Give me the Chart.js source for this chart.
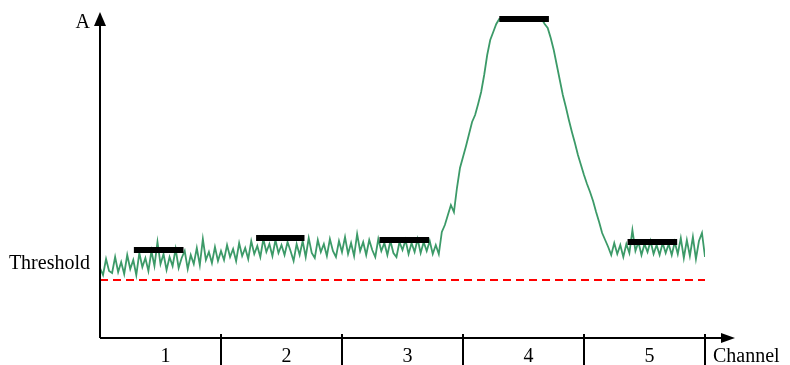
<!DOCTYPE html>
<html>
<head>
<meta charset="utf-8">
<script src="https://cdn.jsdelivr.net/npm/chart.js@4"></script>
<style>
  body { margin: 0; background: #fff; }
</style>
</head>
<body>
<canvas id="myChart" width="790" height="365"></canvas>
<script>
// channel names along the x axis
const channels = ['1', '2', '3', '4', '5'];

const signal = [
  70, 63, 79, 67, 65, 81, 66, 76, 64, 83, 69, 78, 63, 85, 71, 80, 67, 87, 72, 96,
  74, 84, 68, 81, 72, 89, 70, 80, 87, 69, 83, 74, 90, 73, 99, 78, 86, 75, 91, 77,
  87, 78, 93, 81, 89, 77, 95, 82, 90, 79, 97, 84, 92, 81, 99, 86, 94, 82, 98, 85,
  93, 83, 96, 87, 77, 94, 83, 97, 81, 100, 85, 80, 98, 86, 94, 82, 99, 87, 81, 97,
  86, 101, 84, 95, 82, 104, 87, 96, 83, 98, 88, 81, 99, 87, 95, 83, 97, 85, 81, 96,
  88, 98, 84, 95, 86, 99, 85, 96, 87, 97, 84, 93, 84,
  106, 113, 123, 133, 126, 150, 170, 181, 192, 204, 216, 223, 234, 246, 263, 283, 298, 306, 314, 319,
  319, 319, 319, 319, 319, 319, 319, 319, 319, 319, 319, 319, 319, 319, 314,
  310, 300, 288, 273, 258, 243, 231, 218, 206, 195, 183, 173, 163, 154, 146, 137, 126, 116, 105, 98,
  91, 83, 95, 84, 93, 81, 94, 85, 108, 87, 96, 83, 94, 86, 97, 84, 93, 83, 95, 85,
  94, 83, 96, 84, 100, 80, 98, 82, 101, 79, 97, 105, 81
];

// mean level per channel (black bars)
const levelStart = [0.28, 1.29, 2.31, 3.30, 4.36];
const levelEnd = [0.69, 1.69, 2.72, 3.71, 4.77];
const levelValue = [88, 100, 98, 319, 96];

const threshold = 58;
const yMax = 326;

const signalPoints = signal.map((v, i) => ({ x: i * channels.length / (signal.length - 1), y: v }));

const datasets = [{
  data: signalPoints,
  borderColor: '#3c9a68',
  borderWidth: 1.8,
  pointRadius: 0,
  tension: 0,
  order: 3
}, {
  data: [{ x: 0, y: threshold }, { x: channels.length, y: threshold }],
  borderColor: '#ff0000',
  borderWidth: 2,
  borderDash: [8, 5],
  pointRadius: 0,
  order: 2
}];

for (let i = 0; i < levelValue.length; i++) {
  datasets.push({
    data: [{ x: levelStart[i], y: levelValue[i] }, { x: levelEnd[i], y: levelValue[i] }],
    borderColor: '#000',
    borderWidth: 6,
    borderCapStyle: 'butt',
    pointRadius: 0,
    order: 0
  });
}

const axesPlugin = {
  id: 'axes',
  afterDraw(chart) {
    const ctx = chart.ctx;
    const xs = chart.scales.x, ys = chart.scales.y;
    const x0 = xs.getPixelForValue(0);
    const y0 = ys.getPixelForValue(0);
    const top = ys.getPixelForValue(yMax);
    const xEnd = xs.getPixelForValue(channels.length);
    ctx.save();
    ctx.strokeStyle = '#000';
    ctx.fillStyle = '#000';
    ctx.lineWidth = 2;
    // y axis
    ctx.beginPath();
    ctx.moveTo(x0, y0);
    ctx.lineTo(x0, top + 13);
    ctx.stroke();
    ctx.beginPath();
    ctx.moveTo(x0, top);
    ctx.lineTo(x0 - 6, top + 14);
    ctx.lineTo(x0 + 6, top + 14);
    ctx.closePath();
    ctx.fill();
    // x axis
    ctx.beginPath();
    ctx.moveTo(x0, y0);
    ctx.lineTo(xEnd + 18, y0);
    ctx.stroke();
    ctx.beginPath();
    ctx.moveTo(xEnd + 30, y0);
    ctx.lineTo(xEnd + 16, y0 - 5);
    ctx.lineTo(xEnd + 16, y0 + 5);
    ctx.closePath();
    ctx.fill();
    // channel boundaries
    for (let i = 1; i <= channels.length; i++) {
      const px = xs.getPixelForValue(i);
      ctx.beginPath();
      ctx.moveTo(px, y0 - 4);
      ctx.lineTo(px, chart.height);
      ctx.stroke();
    }
    // texts
    ctx.font = '20px "Liberation Serif", serif';
    ctx.textBaseline = 'alphabetic';
    ctx.textAlign = 'center';
    channels.forEach((c, i) => {
      ctx.fillText(c, xs.getPixelForValue(i + 0.5) + 5, y0 + 24);
    });
    ctx.textAlign = 'left';
    ctx.fillText('Channel', xEnd + 8, y0 + 24);
    ctx.textAlign = 'right';
    ctx.fillText('A', x0 - 10, top + 16);
    ctx.fillText('Threshold', x0 - 10, ys.getPixelForValue(threshold) - 11);
    ctx.restore();
  }
};

new Chart(document.getElementById('myChart'), {
  type: 'line',
  data: { datasets: datasets },
  options: {
    responsive: false,
    animation: false,
    layout: { padding: { left: 100, right: 85, top: 12, bottom: 27 } },
    plugins: { legend: { display: false }, tooltip: { enabled: false } },
    scales: {
      x: { type: 'linear', min: 0, max: channels.length, display: false },
      y: { min: 0, max: yMax, display: false }
    }
  },
  plugins: [axesPlugin]
});
</script>
</body>
</html>
